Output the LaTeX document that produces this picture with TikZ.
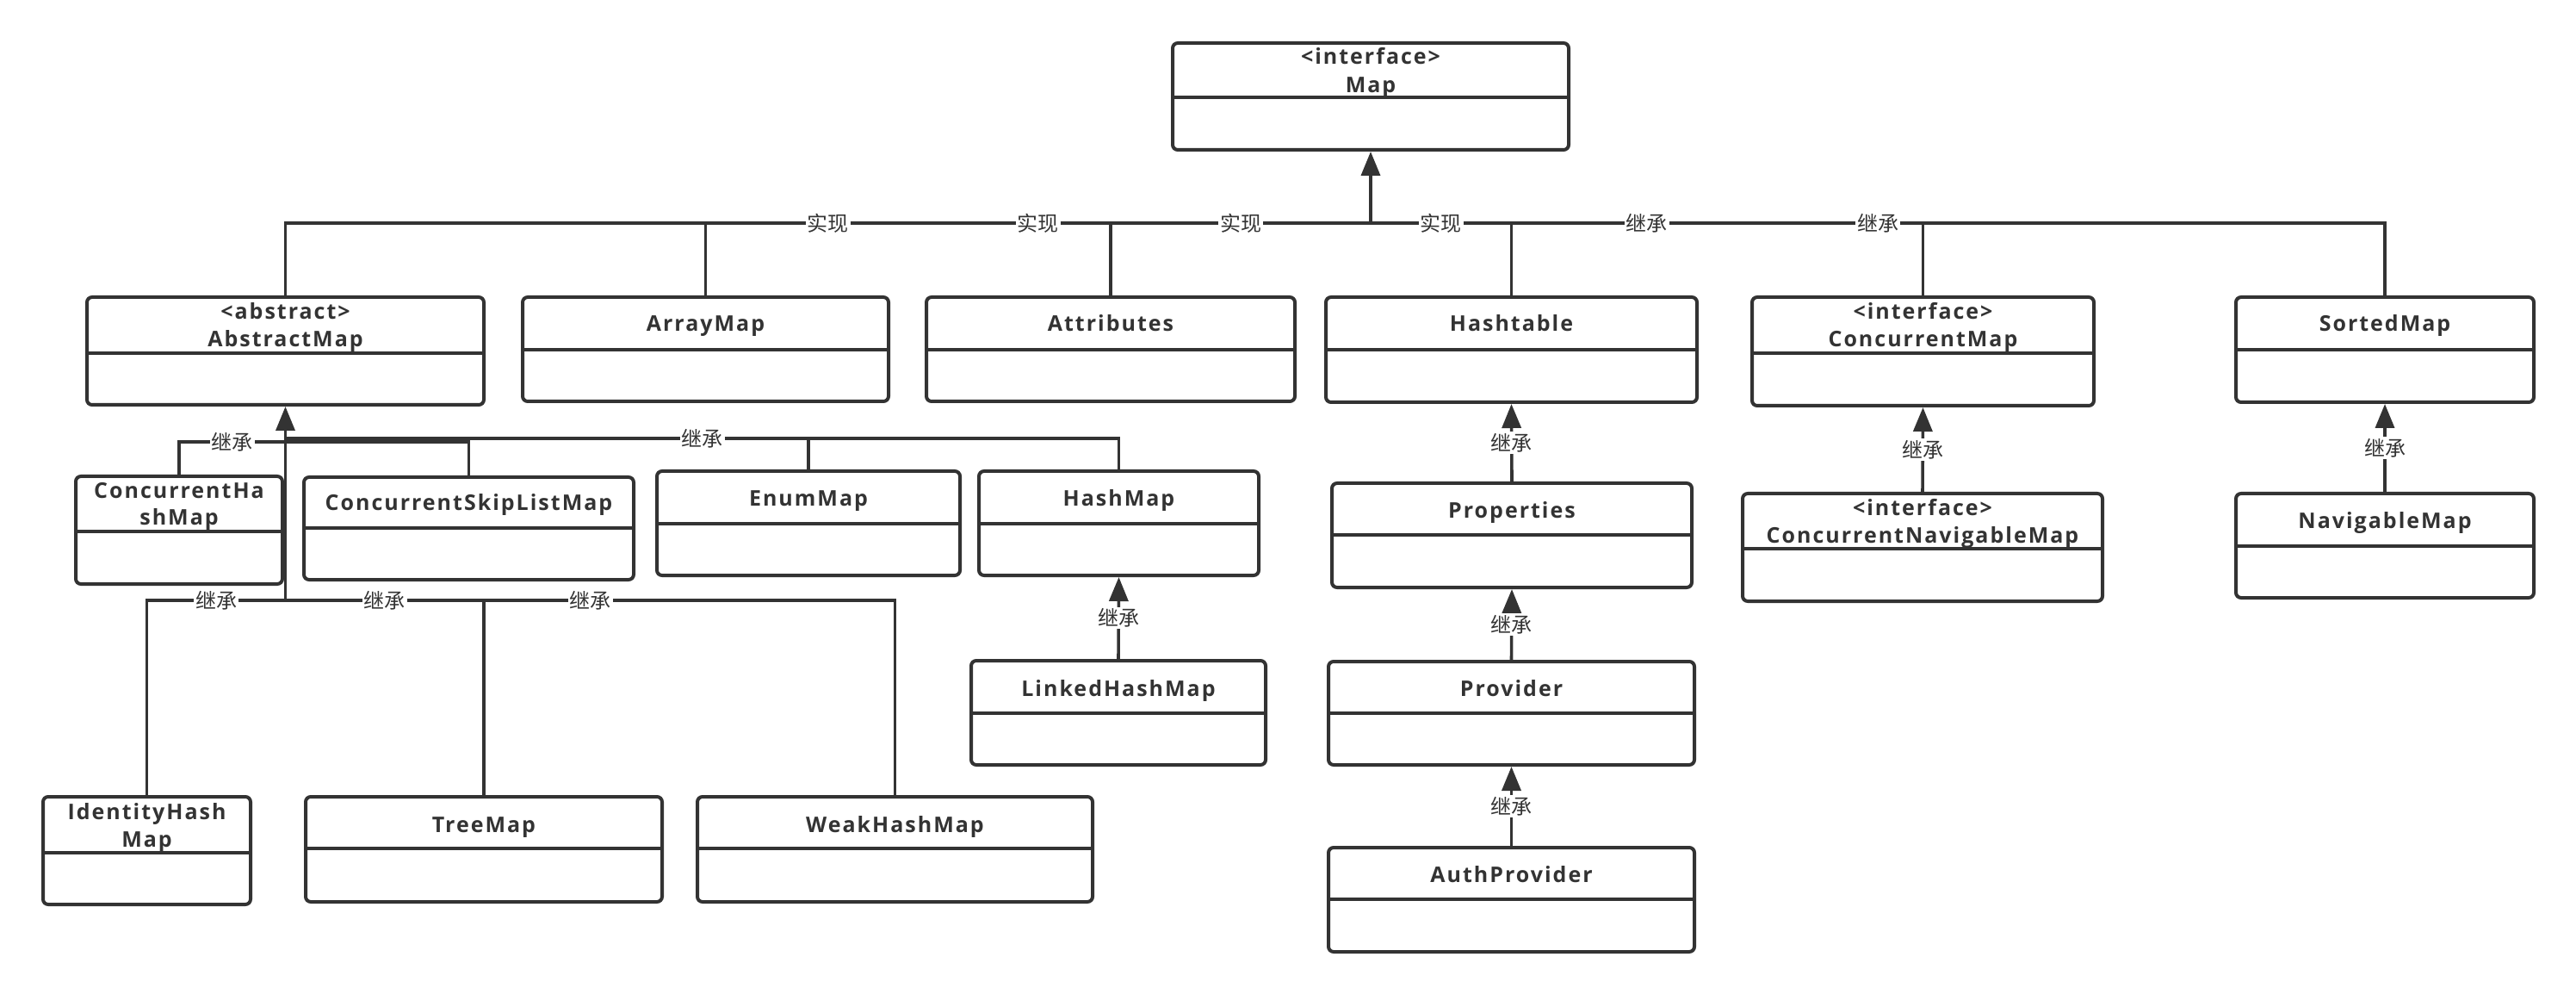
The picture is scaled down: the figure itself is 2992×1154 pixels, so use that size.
\documentclass[tikz,border=0pt]{standalone}
\usepackage{fontspec}
\setmainfont{Open Sans}
\newfontfamily\titlefont[LetterSpace=8]{Open Sans}
\newfontfamily\cjkfont{Noto Sans CJK SC}
\usetikzlibrary{arrows.meta}
\definecolor{ink}{HTML}{333333}
\newcommand\umlbox[6]{%
  \pgfmathsetmacro\bw{(#4-#2)*0.5}%
  \pgfmathsetmacro\bh{(#5-#3)*0.5}%
  \node[classbox, minimum width=\bw pt, minimum height=\bh pt] (#1) at ({(#2+#4)/2},{(#3+#5)/2}) {};%
  \draw[divider] (#2,#6) -- (#4,#6);%
}
\begin{document}
\begin{tikzpicture}[x=0.5pt,y=-0.5pt,
  classbox/.style={draw=ink, line width=2pt, rounded corners=3pt, fill=white, inner sep=0pt},
  divider/.style={draw=ink, line width=2pt},
  conn/.style={draw=ink, line width=1.8pt},
  inh/.style={-{Triangle[length=14pt,width=11pt]}},
  title/.style={font=\titlefont\bfseries\fontsize{12.5}{14}\selectfont, text=ink, inner sep=0pt, anchor=base},
  lab/.style={font=\cjkfont\fontsize{12}{14}\selectfont, text=ink, fill=white, inner sep=1pt},
]
\fill[white] (0,0) rectangle (2992,1154);
\useasboundingbox (0,0) rectangle (2992,1154);

% ---- boxes
\umlbox{Map}{1362}{50}{1822}{174}{113}
\node[title] (Map-t1) at (1592,75) {<interface>};
\node[title] (Map-t2) at (1592,108) {Map};

\umlbox{AbstractMap}{101}{345}{562}{470}{410}
\node[title] (AbstractMap-t1) at (331.5,371) {<abstract>};
\node[title] (AbstractMap-t2) at (331.5,403) {AbstractMap};

\umlbox{ArrayMap}{607}{345}{1032}{466}{406}
\node[title] (ArrayMap-t) at (819.5,385) {ArrayMap};

\umlbox{Attributes}{1076}{345}{1504}{466}{406}
\node[title] (Attributes-t) at (1290,385) {Attributes};

\umlbox{Hashtable}{1540}{345}{1971}{467}{406}
\node[title] (Hashtable-t) at (1755.5,385) {Hashtable};

\umlbox{ConcurrentMap}{2035}{345}{2432}{471}{410}
\node[title] (ConcurrentMap-t1) at (2233.5,371) {<interface>};
\node[title] (ConcurrentMap-t2) at (2233.5,403) {ConcurrentMap};

\umlbox{SortedMap}{2597}{345}{2943}{467}{406}
\node[title] (SortedMap-t) at (2770,385) {SortedMap};

\umlbox{ConcurrentHashMap}{88}{553}{328}{678}{617}
\node[title] (ConcurrentHashMap-t1) at (208,579) {ConcurrentHa};
\node[title] (ConcurrentHashMap-t2) at (208,610) {shMap};

\umlbox{ConcurrentSkipListMap}{353}{554}{736}{673}{613}
\node[title] (ConcurrentSkipListMap-t) at (544.5,593) {ConcurrentSkipListMap};

\umlbox{EnumMap}{763}{547}{1115}{668}{608}
\node[title] (EnumMap-t) at (939,588) {EnumMap};

\umlbox{HashMap}{1137}{547}{1462}{668}{608}
\node[title] (HashMap-t) at (1299.5,588) {HashMap};

\umlbox{Properties}{1547}{561}{1965}{682}{621}
\node[title] (Properties-t) at (1756,602) {Properties};

\umlbox{ConcurrentNavigableMap}{2024}{573}{2442}{698}{637}
\node[title] (ConcurrentNavigableMap-t1) at (2233,598) {<interface>};
\node[title] (ConcurrentNavigableMap-t2) at (2233,631) {ConcurrentNavigableMap};

\umlbox{NavigableMap}{2597}{573}{2943}{694}{634}
\node[title] (NavigableMap-t) at (2770,613) {NavigableMap};

\umlbox{LinkedHashMap}{1128}{767}{1470}{888}{828}
\node[title] (LinkedHashMap-t) at (1299,808) {LinkedHashMap};

\umlbox{Provider}{1543}{768}{1968}{888}{828}
\node[title] (Provider-t) at (1755.5,808) {Provider};

\umlbox{AuthProvider}{1543}{984}{1968}{1105}{1044}
\node[title] (AuthProvider-t) at (1755.5,1024) {AuthProvider};

\umlbox{IdentityHashMap}{50}{925}{291}{1050}{990}
\node[title] (IdentityHashMap-t1) at (170.5,951) {IdentityHash};
\node[title] (IdentityHashMap-t2) at (170.5,983) {Map};

\umlbox{TreeMap}{355}{925}{769}{1047}{985}
\node[title] (TreeMap-t) at (562,966) {TreeMap};

\umlbox{WeakHashMap}{810}{925}{1269}{1047}{985}
\node[title] (WeakHashMap-t) at (1039.5,966) {WeakHashMap};

% ---- junctions
\coordinate (mapj) at (Map.south |- 0,259);
\coordinate (amj1) at (AbstractMap.south |- 0,509);
\coordinate (amj1b) at (AbstractMap.south |- 0,513);
\coordinate (amj2) at (AbstractMap.south |- 0,697);

% ---- connectors
\draw[conn, inh] (mapj) -- (Map.south);
\draw[conn] (mapj) -| (AbstractMap.north);
\draw[conn] (mapj) -| (ArrayMap.north);
\draw[conn] (mapj) -| (Attributes.north);
\draw[conn] (mapj) -| (Hashtable.north);
\draw[conn] (mapj) -| (ConcurrentMap.north);
\draw[conn] (mapj) -| (SortedMap.north);

\draw[conn, inh] (amj2) -- (AbstractMap.south);
\draw[conn] (amj1b) -| (ConcurrentHashMap.north);
\draw[conn] (amj1b) -| (ConcurrentSkipListMap.north);
\draw[conn] (amj1) -| (EnumMap.north);
\draw[conn] (amj1) -| (HashMap.north);
\draw[conn] (amj2) -| (IdentityHashMap.north);
\draw[conn] (amj2) -| (TreeMap.north);
\draw[conn] (amj2) -| (WeakHashMap.north);

\draw[conn, inh] (LinkedHashMap.north) -- node[lab] (lab-lhm) {继承} (HashMap.south);
\draw[conn, inh] (Properties.north) -- node[lab] (lab-prop) {继承} (Hashtable.south);
\draw[conn, inh] (Provider.north) -- node[lab] (lab-prov) {继承} (Properties.south);
\draw[conn, inh] (AuthProvider.north) -- node[lab] (lab-auth) {继承} (Provider.south);
\draw[conn, inh] (ConcurrentNavigableMap.north) -- node[lab] (lab-cnm) {继承} (ConcurrentMap.south);
\draw[conn, inh] (NavigableMap.north) -- node[lab] (lab-nav) {继承} (SortedMap.south);

% ---- labels on bus lines (second pass so no line covers them)
\path (mapj) -| node[lab, pos=0.25] (lab-am) {实现} (AbstractMap.north);
\path (mapj) -| node[lab, pos=0.25] (lab-arr) {实现} (ArrayMap.north);
\path (mapj) -| node[lab, pos=0.25] (lab-att) {实现} (Attributes.north);
\path (mapj) -| node[lab, pos=0.25] (lab-ht) {实现} (Hashtable.north);
\path (mapj) -| node[lab, pos=0.25] (lab-cm) {继承} (ConcurrentMap.north);
\path (mapj) -| node[lab, pos=0.25] (lab-sm) {继承} (SortedMap.north);

\path (amj1b) -| node[lab, pos=0.25] (lab-chm) {继承} (ConcurrentHashMap.north);
\path (amj1) -| node[lab, pos=0.25] (lab-hm) {继承} (HashMap.north);
\path (amj2) -| node[lab, pos=0.25] (lab-ihm) {继承} (IdentityHashMap.north);
\path (amj2) -| node[lab, pos=0.25] (lab-tm) {继承} (TreeMap.north);
\path (amj2) -| node[lab, pos=0.25] (lab-whm) {继承} (WeakHashMap.north);
\end{tikzpicture}
\end{document}
